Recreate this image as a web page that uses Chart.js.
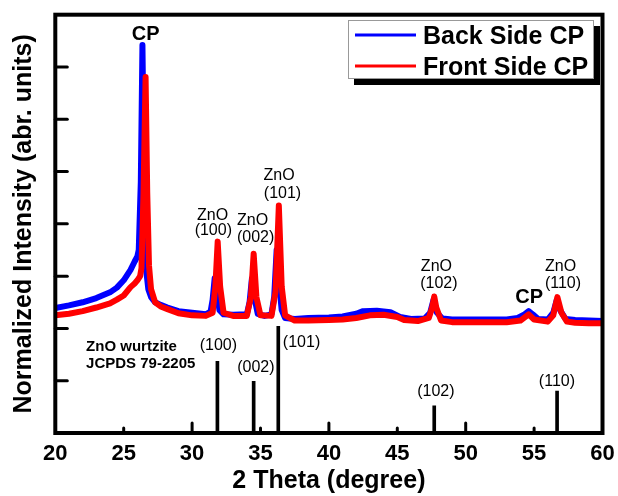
<!DOCTYPE html>
<html lang="en">
<head>
    <meta charset="UTF-8">
    <title>XRD - CP</title>
    <style>
        body { margin: 0; background: #fff; }
    </style>
</head>
<body>

<canvas id="chart" width="618" height="496"></canvas>

<script src="https://cdn.jsdelivr.net/npm/chart.js@4.4.0/dist/chart.umd.min.js"></script>
<script>
    // back side CP (blue)
    var backX = [20, 21, 22, 23, 24, 24.5, 25, 25.5, 25.8, 26.0, 26.1, 26.25, 26.37, 26.5, 26.65, 26.8, 27.0, 27.3, 27.7, 28.2,
        29, 30, 31, 31.35, 31.5, 31.65, 31.8, 32.0, 32.3, 33, 34.0, 34.2, 34.37, 34.55, 34.8, 35.3, 35.8, 36.0, 36.18, 36.35,
        36.55, 36.8, 37.5, 38.5, 40, 41, 42, 42.5, 43.5, 44.5, 45.2, 46, 47, 47.4, 47.65, 47.9, 48.3, 49, 50, 51,
        52, 53, 53.8, 54.3, 54.6, 54.9, 55.3, 56.0, 56.4, 56.65, 56.9, 57.3, 58, 59, 60];
    var backY = [2.39, 2.44, 2.50, 2.58, 2.69, 2.78, 2.92, 3.12, 3.28, 3.38, 3.5, 4.8, 7.42, 4.6, 3.1, 2.75, 2.6, 2.5, 2.45, 2.40,
        2.33, 2.30, 2.27, 2.32, 2.55, 2.96, 2.7, 2.35, 2.27, 2.26, 2.27, 2.5, 2.95, 2.6, 2.28, 2.24, 2.27, 2.6, 3.5, 2.9,
        2.35, 2.2, 2.18, 2.20, 2.21, 2.23, 2.28, 2.33, 2.34, 2.31, 2.22, 2.18, 2.19, 2.3, 2.55, 2.3, 2.19, 2.17, 2.17, 2.17,
        2.17, 2.17, 2.2, 2.27, 2.33, 2.27, 2.18, 2.17, 2.3, 2.54, 2.35, 2.18, 2.16, 2.15, 2.14];

    // front side CP (red)
    var frontX = [20, 21, 22, 23, 24, 24.5, 25, 25.5, 25.8, 26.0, 26.2, 26.3, 26.45, 26.6, 26.72, 26.85, 27.0, 27.3, 27.7, 28.2,
        29, 30, 31, 31.5, 31.7, 31.87, 32.05, 32.3, 33, 34.0, 34.3, 34.5, 34.7, 35.0, 35.8, 36.1, 36.34, 36.55, 36.8, 37.5,
        38.5, 40, 41, 42, 43, 44, 45, 45.5, 46.5, 47.3, 47.55, 47.7, 47.85, 48.2, 49, 50, 51, 52, 53, 54.0,
        54.6, 55.0, 56.0, 56.4, 56.7, 57.0, 57.4, 58, 59, 60];
    var frontY = [2.25, 2.28, 2.33, 2.40, 2.48, 2.55, 2.63, 2.79, 2.86, 2.92, 3.0, 3.15, 4.6, 6.81, 4.6, 3.2, 2.75, 2.5, 2.42, 2.37,
        2.29, 2.25, 2.24, 2.30, 2.8, 3.66, 2.8, 2.3, 2.24, 2.24, 2.6, 3.43, 2.6, 2.25, 2.24, 2.7, 4.35, 2.8, 2.25, 2.15,
        2.15, 2.16, 2.17, 2.20, 2.25, 2.26, 2.22, 2.16, 2.14, 2.2, 2.4, 2.61, 2.4, 2.15, 2.12, 2.12, 2.12, 2.12, 2.12, 2.15,
        2.27, 2.17, 2.13, 2.25, 2.6, 2.3, 2.13, 2.11, 2.10, 2.10];

    // ZnO wurtzite, JCPDS 79-2205 stick pattern
    var refPos = [31.85, 34.5, 36.3, 47.7, 56.68];
    var refHeight = [1.37, 0.99, 2.04, 0.52, 0.80];
    var refHkl = ['(100)', '(002)', '(101)', '(102)', '(110)'];

    var FONT = '"Liberation Sans", Arial, Helvetica, sans-serif';

    function toPoints(xs, ys) {
        return xs.map(function (x, i) { return {x: x, y: ys[i]}; });
    }

    // peak labels, placed in data units
    var peakLabels = [
        {text: 'CP', x: 26.60, y: 7.52, bold: true, size: 20},
        {text: 'ZnO', x: 31.50, y: 4.07}, {text: '(100)', x: 31.55, y: 3.79},
        {text: 'ZnO', x: 34.42, y: 3.97}, {text: '(002)', x: 34.64, y: 3.66},
        {text: 'ZnO', x: 36.36, y: 4.84}, {text: '(101)', x: 36.61, y: 4.49},
        {text: 'ZnO', x: 47.86, y: 3.09}, {text: '(102)', x: 48.04, y: 2.77},
        {text: 'CP', x: 54.64, y: 2.49, bold: true, size: 20},
        {text: 'ZnO', x: 56.94, y: 3.09}, {text: '(110)', x: 57.11, y: 2.77},
        // stick labels
        {text: refHkl[0], x: 31.92, y: 1.59}, {text: refHkl[1], x: 34.66, y: 1.17},
        {text: refHkl[2], x: 38.00, y: 1.65}, {text: refHkl[3], x: 47.82, y: 0.71},
        {text: refHkl[4], x: 56.67, y: 0.89},
        {text: 'ZnO wurtzite', x: 22.25, y: 1.57, bold: true, size: 15, align: 'left'},
        {text: 'JCPDS 79-2205', x: 22.25, y: 1.24, bold: true, size: 15, align: 'left'}
    ];

    var decorPlugin = {
        id: 'decor',
        afterDraw: function (chart) {
            var c = chart.ctx, a = chart.chartArea;
            var xs = chart.scales.x, ys = chart.scales.y;
            c.save();
            c.strokeStyle = '#000';
            c.fillStyle = '#000';

            function seg(x1, y1, x2, y2) {
                c.beginPath(); c.moveTo(x1, y1); c.lineTo(x2, y2); c.stroke();
            }

            // ticks point inwards
            c.lineWidth = 3;
            c.lineCap = 'round';
            ys.ticks.forEach(function (t) {
                if (t.value <= ys.min || t.value >= ys.max) return;
                var py = ys.getPixelForValue(t.value);
                seg(a.left, py, a.left + 12, py);
            });
            xs.ticks.forEach(function (t) {
                if (t.value <= xs.min || t.value >= xs.max) return;
                var px = xs.getPixelForValue(t.value);
                var len = t.value % 10 === 0 ? 10 : 5;
                seg(px, a.bottom, px, a.bottom - len);
            });

            // frame
            c.lineCap = 'butt';
            c.lineWidth = 4;
            c.strokeRect(a.left, a.top, a.right - a.left, a.bottom - a.top);

            // legend box with shadow
            var bx = a.right - 254.5, by = a.top + 5.3, bw = 246, bh = 59;
            c.fillStyle = '#000';
            c.fillRect(bx + 6, by + 6, bw, bh);
            c.fillStyle = '#fff';
            c.fillRect(bx, by, bw, bh);
            c.lineWidth = 1;
            c.strokeStyle = '#999';
            c.strokeRect(bx + 0.5, by + 0.5, bw - 1, bh - 1);
            c.font = 'bold 25px ' + FONT;
            c.textAlign = 'left';
            c.textBaseline = 'alphabetic';
            [0, 1].forEach(function (i) {
                var ds = chart.data.datasets[i];
                var ly = by + 15 + i * 31;
                c.strokeStyle = ds.borderColor;
                c.lineWidth = 3;
                seg(bx + 7, ly, bx + 68, ly);
                c.fillStyle = '#000';
                c.fillText(ds.label, bx + 75, ly + 8.5);
            });

            // text labels
            c.fillStyle = '#000';
            peakLabels.forEach(function (p) {
                c.font = (p.bold ? 'bold ' : '') + (p.size || 16) + 'px ' + FONT;
                c.textAlign = p.align || 'center';
                c.fillText(p.text, xs.getPixelForValue(p.x), ys.getPixelForValue(p.y));
            });
            c.restore();
        }
    };

    var ctx = document.getElementById('chart').getContext('2d');
    var theChart = new Chart(ctx, {
        type: 'scatter',
        data: {
            datasets: [
                {
                    type: 'line',
                    label: 'Back Side CP',
                    data: toPoints(backX, backY),
                    borderColor: '#0000ff',
                    borderWidth: 6,
                    borderJoinStyle: 'round',
                    pointRadius: 0,
                    order: 2
                },
                {
                    type: 'line',
                    label: 'Front Side CP',
                    data: toPoints(frontX, frontY),
                    borderColor: '#ff0000',
                    borderWidth: 6,
                    borderJoinStyle: 'round',
                    pointRadius: 0,
                    order: 1
                },
                {
                    type: 'bar',
                    label: 'JCPDS 79-2205',
                    data: toPoints(refPos, refHeight),
                    backgroundColor: '#000',
                    barThickness: 3,
                    order: 3
                }
            ]
        },
        options: {
            responsive: false,
            animation: false,
            layout: {padding: {top: 14.7, right: 15.5, left: 0, bottom: 0}},
            plugins: {
                legend: {display: false},
                tooltip: {enabled: false}
            },
            scales: {
                x: {
                    type: 'linear',
                    min: 20,
                    max: 60,
                    offset: false,
                    grid: {display: false, drawTicks: false},
                    border: {display: false},
                    ticks: {stepSize: 5, padding: 8, color: '#000', font: {family: FONT, size: 22, weight: 'bold'}},
                    title: {display: true, text: '2 Theta (degree)', color: '#000', padding: 0,
                        font: {family: FONT, size: 25, weight: 'bold'}},
                    afterFit: function (s) {
                        s.height = 63;
                        // the "60" label may hang into the right margin
                        s.paddingLeft = 0;
                        s.paddingRight = 0;
                    }
                },
                y: {
                    type: 'linear',
                    min: 0,
                    max: 8,
                    grid: {display: false, drawTicks: false},
                    border: {display: false},
                    ticks: {stepSize: 1, display: false},
                    title: {display: true, text: 'Normalized Intensity (abr. units)', color: '#000',
                        padding: {top: 9, bottom: 0}, font: {family: FONT, size: 25, weight: 'bold'}},
                    afterFit: function (s) { s.width = 55.3; }
                }
            }
        },
        plugins: [decorPlugin]
    });
</script>
</body>
</html>
